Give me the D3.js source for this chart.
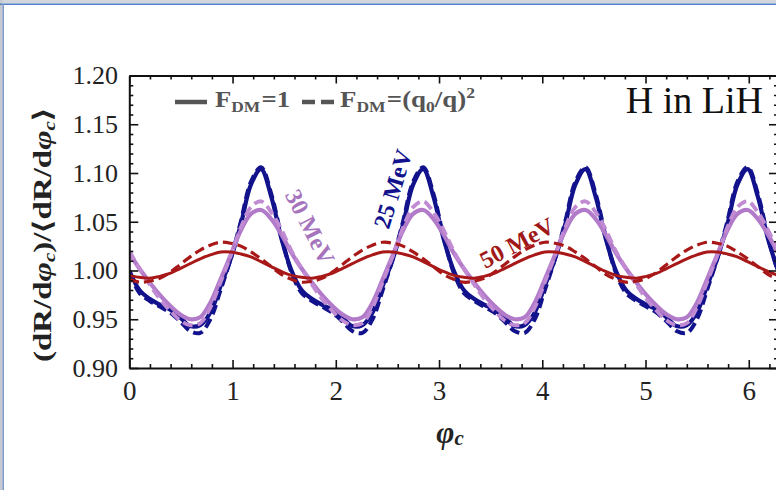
<!DOCTYPE html>
<html><head><meta charset="utf-8">
<script src="https://cdn.jsdelivr.net/npm/d3@7"></script>
<style>
html,body{margin:0;padding:0;background:#fff;}
svg{display:block;}
</style></head>
<body>
<svg id="c" width="776" height="490"></svg>
<script>
// ---- data ----
const phi = [0,0.098,0.196,0.295,0.393,0.491,0.589,0.687,0.785,0.884,0.982,1.080,1.178,1.276,1.374,1.473,
1.571,1.669,1.767,1.865,1.963,2.062,2.160,2.258,2.356,2.454,2.553,2.651,2.749,2.847,2.945,3.043,
3.142,3.240,3.338,3.436,3.534,3.632,3.731,3.829,3.927,4.025,4.123,4.222,4.320,4.418,4.516,4.614,
4.712,4.811,4.909,5.007,5.105,5.203,5.301,5.400,5.498,5.596,5.694,5.792,5.890,5.989,6.087,6.185,6.283];

const mev25_F1 = [1.000,0.980,0.971,0.965,0.960,0.952,0.943,0.944,0.957,0.984,1.012,1.047,1.088,1.104,1.076,1.033,
1.000,0.980,0.971,0.965,0.960,0.952,0.943,0.944,0.957,0.984,1.012,1.047,1.088,1.104,1.076,1.033,
1.000,0.980,0.971,0.965,0.960,0.952,0.943,0.944,0.957,0.984,1.012,1.047,1.088,1.104,1.076,1.033,
1.000,0.980,0.971,0.965,0.960,0.952,0.943,0.944,0.957,0.984,1.012,1.047,1.088,1.104,1.076,1.033,1.000];
const mev25_Fq2 = [0.998,0.977,0.969,0.963,0.957,0.948,0.938,0.936,0.950,0.980,1.012,1.050,1.091,1.106,1.079,1.035,
0.998,0.977,0.969,0.963,0.957,0.948,0.938,0.936,0.950,0.980,1.012,1.050,1.091,1.106,1.079,1.035,
0.998,0.977,0.969,0.963,0.957,0.948,0.938,0.936,0.950,0.980,1.012,1.050,1.091,1.106,1.079,1.035,
0.998,0.977,0.969,0.963,0.957,0.948,0.938,0.936,0.950,0.980,1.012,1.050,1.091,1.106,1.079,1.035,0.998];
const mev30_F1 = [1.018,1.002,0.988,0.975,0.964,0.955,0.950,0.952,0.967,0.991,1.016,1.041,1.058,1.062,1.053,1.037,
1.018,1.002,0.988,0.975,0.964,0.955,0.950,0.952,0.967,0.991,1.016,1.041,1.058,1.062,1.053,1.037,
1.018,1.002,0.988,0.975,0.964,0.955,0.950,0.952,0.967,0.991,1.016,1.041,1.058,1.062,1.053,1.037,
1.018,1.002,0.988,0.975,0.964,0.955,0.950,0.952,0.967,0.991,1.016,1.041,1.058,1.062,1.053,1.037,1.018];
const mev30_Fq2 = [1.020,1.002,0.986,0.971,0.959,0.949,0.944,0.946,0.962,0.988,1.015,1.044,1.065,1.071,1.060,1.042,
1.020,1.002,0.986,0.971,0.959,0.949,0.944,0.946,0.962,0.988,1.015,1.044,1.065,1.071,1.060,1.042,
1.020,1.002,0.986,0.971,0.959,0.949,0.944,0.946,0.962,0.988,1.015,1.044,1.065,1.071,1.060,1.042,
1.020,1.002,0.986,0.971,0.959,0.949,0.944,0.946,0.962,0.988,1.015,1.044,1.065,1.071,1.060,1.042,1.020];
const mev50_F1 = [0.995,0.993,0.992,0.994,0.997,1.002,1.007,1.012,1.016,1.019,1.019,1.017,1.014,1.009,1.004,0.999,
0.995,0.993,0.992,0.994,0.997,1.002,1.007,1.012,1.016,1.019,1.019,1.017,1.014,1.009,1.004,0.999,
0.995,0.993,0.992,0.994,0.997,1.002,1.007,1.012,1.016,1.019,1.019,1.017,1.014,1.009,1.004,0.999,
0.995,0.993,0.992,0.994,0.997,1.002,1.007,1.012,1.016,1.019,1.019,1.017,1.014,1.009,1.004,0.999,0.995];
const mev50_Fq2 = [0.991,0.988,0.989,0.992,0.998,1.006,1.014,1.021,1.026,1.029,1.028,1.025,1.019,1.012,1.004,0.996,
0.991,0.988,0.989,0.992,0.998,1.006,1.014,1.021,1.026,1.029,1.028,1.025,1.019,1.012,1.004,0.996,
0.991,0.988,0.989,0.992,0.998,1.006,1.014,1.021,1.026,1.029,1.028,1.025,1.019,1.012,1.004,0.996,
0.991,0.988,0.989,0.992,0.998,1.006,1.014,1.021,1.026,1.029,1.028,1.025,1.019,1.012,1.004,0.996,0.991];

const xTicks = [0,1,2,3,4,5,6];
const xMinorTicks = [0.2,0.4,0.6,0.8,1.2,1.4,1.6,1.8,2.2,2.4,2.6,2.8,3.2,3.4,3.6,3.8,4.2,4.4,4.6,4.8,5.2,5.4,5.6,5.8,6.2];
const yTicks = [0.90,0.95,1.00,1.05,1.10,1.15,1.20];
const yTickLabels = ["0.90","0.95","1.00","1.05","1.10","1.15","1.20"];

// ---- drawing ----
const svg = d3.select("#c");
const W = 776, H = 490;
const x = d3.scaleLinear().domain([0, 2*Math.PI]).range([129.3, 778]);
const y = d3.scaleLinear().domain([0.9, 1.2]).range([368, 75.5]);
const yMinor = d3.range(0.90, 1.2001, 0.01).filter(v => Math.abs(Math.round(v*20)-v*20) > 1e-6);

// window frame
svg.append("rect").attr("x",0).attr("y",0).attr("width",W).attr("height",H).attr("fill","#fff");
svg.append("rect").attr("x",0).attr("y",0).attr("width",W).attr("height",3.5).attr("fill","#d3d6da");
svg.append("rect").attr("x",0).attr("y",0).attr("width",2.5).attr("height",H).attr("fill","#c6cad0");
svg.append("line").attr("x1",0).attr("x2",W).attr("y1",4.3).attr("y2",4.3).attr("stroke","#4f7fc6").attr("stroke-width",1.6);
svg.append("line").attr("x1",3.2).attr("x2",3.2).attr("y1",4).attr("y2",H).attr("stroke","#7f9cc8").attr("stroke-width",1.6);

const serif = "Liberation Serif, Times New Roman, serif";

// curves
const line = d3.line().x((d,i)=>x(phi[i])).y(d=>y(d)).curve(d3.curveCatmullRom.alpha(0.5));
const plot = svg.append("g");
plot.append("defs").append("clipPath").attr("id","clip").append("rect")
  .attr("x",129.3).attr("y",75.5).attr("width",650).attr("height",292.5);
const g = plot.append("g").attr("clip-path","url(#clip)");
const series = [
  {v: mev25_F1, c:"#12128c", w:4.2, dash:null},
  {v: mev25_Fq2, c:"#12128c", w:4.0, dash:"10,5"},
  {v: mev30_F1, c:"#b27bca", w:4.2, dash:null},
  {v: mev30_Fq2, c:"#c08bd3", w:3.8, dash:"10,5"},
  {v: mev50_F1, c:"#a81818", w:3.0, dash:null},
  {v: mev50_Fq2, c:"#a81818", w:3.2, dash:"10,5"}
];
series.forEach(s=>{
  g.append("path").attr("d", line(s.v)).attr("fill","none").attr("stroke",s.c)
   .attr("stroke-width",s.w).attr("stroke-dasharray",s.dash).attr("stroke-linejoin","round");
});

// axes
function styleAxis(sel){
  sel.selectAll("path.domain").attr("stroke","#111").attr("stroke-width",2);
  sel.selectAll(".tick line").attr("stroke","#111").attr("stroke-width",1.6);
}
const axB = svg.append("g").attr("transform",`translate(0,${y(0.9)})`)
  .call(d3.axisBottom(x).tickValues(xTicks).tickSize(-8).tickSizeOuter(0).tickPadding(12.8).tickFormat(d3.format("d")));
axB.selectAll("text").attr("font-family",serif).attr("font-size",27).attr("fill","#222");
styleAxis(axB);
svg.append("g").attr("transform",`translate(0,${y(0.9)})`)
  .call(d3.axisBottom(x).tickValues(xMinorTicks).tickSize(-4).tickSizeOuter(0).tickFormat(""))
  .call(s=>{s.select("path.domain").remove(); styleAxis(s);});
const axT = svg.append("g").attr("transform",`translate(0,${y(1.2)})`)
  .call(d3.axisTop(x).tickValues(xTicks).tickSize(-8).tickSizeOuter(0).tickFormat(""));
styleAxis(axT);
svg.append("g").attr("transform",`translate(0,${y(1.2)})`)
  .call(d3.axisTop(x).tickValues(xMinorTicks).tickSize(-4).tickSizeOuter(0).tickFormat(""))
  .call(s=>{s.select("path.domain").remove(); styleAxis(s);});

const axL = svg.append("g").attr("transform",`translate(${x(0)},0)`)
  .call(d3.axisLeft(y).tickValues(yTicks).tickSize(-9).tickSizeOuter(0).tickPadding(11.3)
        .tickFormat((d,i)=>yTickLabels[i]));
axL.selectAll("text").attr("font-family",serif).attr("font-size",26).attr("fill","#222");
styleAxis(axL);
svg.append("g").attr("transform",`translate(${x(0)},0)`)
  .call(d3.axisLeft(y).tickValues(yMinor).tickSize(-4).tickSizeOuter(0).tickFormat(""))
  .call(s=>{s.select("path.domain").remove(); styleAxis(s);});
const axR = svg.append("g").attr("transform",`translate(${x(2*Math.PI)},0)`)
  .call(d3.axisRight(y).tickValues(yTicks).tickSize(-9).tickSizeOuter(0).tickFormat(""));
styleAxis(axR);
svg.append("g").attr("transform",`translate(${x(2*Math.PI)},0)`)
  .call(d3.axisRight(y).tickValues(yMinor).tickSize(-4).tickSizeOuter(0).tickFormat(""))
  .call(s=>{s.select("path.domain").remove(); styleAxis(s);});

// axis titles
const yt = svg.append("text").attr("transform","translate(51,235) rotate(-90)")
  .attr("text-anchor","middle").attr("font-family",serif).attr("font-weight","bold")
  .attr("font-size",25).attr("fill","#222")
  .attr("textLength",254).attr("lengthAdjust","spacingAndGlyphs");
yt.append("tspan").text("(dR/d");
yt.append("tspan").attr("font-style","italic").text("φ");
yt.append("tspan").attr("font-style","italic").attr("font-size",16).attr("dy",4).text("c");
yt.append("tspan").attr("dy",-4).text(")/⟨dR/d");
yt.append("tspan").attr("font-style","italic").text("φ");
yt.append("tspan").attr("font-style","italic").attr("font-size",16).attr("dy",4).text("c");
yt.append("tspan").attr("dy",-4).text("⟩");

const xt = svg.append("text").attr("x",450).attr("y",443).attr("text-anchor","middle")
  .attr("font-family",serif).attr("font-weight","bold").attr("font-style","italic")
  .attr("font-size",31).attr("fill","#222");
xt.append("tspan").text("φ");
xt.append("tspan").attr("font-size",21).attr("dy",2).text("c");

// legend
const legC = "#555";
svg.append("line").attr("x1",175).attr("x2",207).attr("y1",102).attr("y2",102).attr("stroke",legC).attr("stroke-width",4.5);
svg.append("line").attr("x1",302).attr("x2",334).attr("y1",102).attr("y2",102).attr("stroke",legC).attr("stroke-width",4.5).attr("stroke-dasharray","13,6");
const l1 = svg.append("text").attr("x",215).attr("y",107).attr("font-family",serif).attr("font-weight","bold").attr("font-size",23).attr("fill",legC)
  .attr("textLength",75).attr("lengthAdjust","spacingAndGlyphs");
l1.append("tspan").text("F");
l1.append("tspan").attr("font-size",15).attr("dy",5).text("DM");
l1.append("tspan").attr("dy",-5).attr("dx",1).text("=1");
const l2 = svg.append("text").attr("x",340).attr("y",107).attr("font-family",serif).attr("font-weight","bold").attr("font-size",23).attr("fill",legC)
  .attr("textLength",135).attr("lengthAdjust","spacingAndGlyphs");
l2.append("tspan").text("F");
l2.append("tspan").attr("font-size",15).attr("dy",5).text("DM");
l2.append("tspan").attr("dy",-5).attr("dx",1).text("=(q");
l2.append("tspan").attr("font-size",15).attr("dy",5).text("0");
l2.append("tspan").attr("dy",-5).text("/q)");
l2.append("tspan").attr("font-size",15).attr("dy",-9).text("2");

// panel title
svg.append("text").attr("x",763).attr("y",113).attr("text-anchor","end")
  .attr("font-family",serif).attr("font-size",38).attr("fill","#111").text("H in LiH");

// curve labels
const labels = [
  {t:"25 MeV", x:393, y:189, a:-73, c:"#12128c"},
  {t:"30 MeV", x:310, y:227, a:63, c:"#a674bd"},
  {t:"50 MeV", x:517, y:243, a:-28, c:"#a01818"}
];
labels.forEach(l=>{
  svg.append("text").attr("transform",`translate(${l.x},${l.y}) rotate(${l.a})`)
    .attr("text-anchor","middle").attr("dominant-baseline","central")
    .attr("font-family",serif).attr("font-weight","bold").attr("font-size",24)
    .attr("fill",l.c).text(l.t);
});
</script>
</body></html>
